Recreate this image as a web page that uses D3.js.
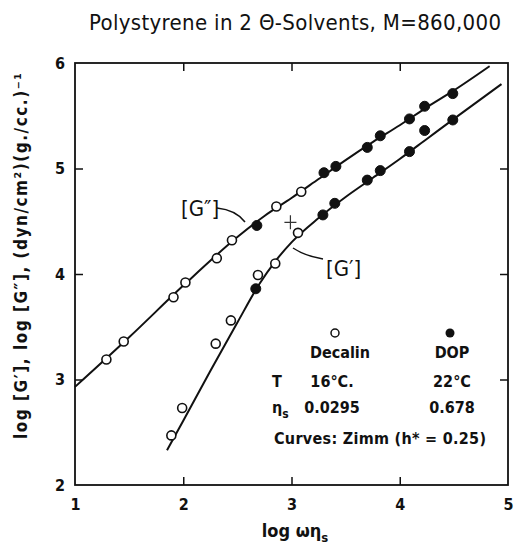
<!DOCTYPE html>
<html><head><meta charset="utf-8">
<script src="https://cdn.jsdelivr.net/npm/d3@7"></script>
<style>body{margin:0;background:#fff}svg{display:block}text{font-family:"DejaVu Sans Condensed","DejaVu Sans",sans-serif;fill:#111}</style>
</head><body><svg id="c" width="516" height="546"></svg>
<script>
// data
const xTicks = [1, 2, 3, 4, 5];
const yTicks = [2, 3, 4, 5, 6];
const gDoublePrimeDecalin = [[1.29,3.19],[1.45,3.36],[1.91,3.78],[2.02,3.92],[2.31,4.15],[2.45,4.32],[2.86,4.64],[3.09,4.78]];
const gDoublePrimeDOP = [[2.68,4.46],[3.30,4.96],[3.41,5.02],[3.70,5.20],[3.82,5.31],[4.09,5.47],[4.23,5.59],[4.49,5.71]];
const gPrimeDecalin = [[1.89,2.47],[1.99,2.73],[2.30,3.34],[2.44,3.56],[2.69,3.99],[2.85,4.10],[3.06,4.39]];
const gPrimeDOP = [[2.67,3.86],[3.29,4.56],[3.40,4.67],[3.70,4.89],[3.82,4.98],[4.09,5.16],[4.23,5.36],[4.49,5.46]];
const zimmGDoublePrime = [[1.0,2.93],[1.5,3.40],[2.0,3.89],[2.5,4.35],[2.75,4.55],[3.0,4.72],[3.25,4.90],[3.5,5.08],[3.75,5.25],[4.0,5.41],[4.25,5.58],[4.5,5.74],[4.83,5.97]];
const zimmGPrime = [[1.85,2.33],[2.0,2.61],[2.25,3.08],[2.5,3.54],[2.7,3.90],[2.85,4.12],[3.0,4.30],[3.25,4.53],[3.5,4.73],[3.75,4.91],[4.0,5.09],[4.25,5.28],[4.5,5.47],[4.94,5.80]];
const crossMark = [[2.99,4.49]];

const svg = d3.select("#c");
const L=75, R=508, T=63, B=485;
const x = d3.scaleLinear().domain([1,5]).range([L,R]);
const y = d3.scaleLinear().domain([2,6]).range([B,T]);
const ink="#111";

// frame
svg.append("rect").attr("x",L).attr("y",T).attr("width",R-L).attr("height",B-T)
  .attr("fill","none").attr("stroke",ink).attr("stroke-width",1.8);

// axes with inward ticks
const tl=8;
const gb=svg.append("g").attr("transform",`translate(0,${B})`)
  .call(d3.axisBottom(x).tickValues(xTicks).tickSize(-tl).tickPadding(14).tickFormat(d3.format("d")));
const gt=svg.append("g").attr("transform",`translate(0,${T})`)
  .call(d3.axisTop(x).tickValues(xTicks.slice(1,-1)).tickSize(-tl).tickFormat(""));
const gl=svg.append("g").attr("transform",`translate(${L},0)`)
  .call(d3.axisLeft(y).tickValues(yTicks).tickSize(-tl).tickPadding(10).tickFormat(d3.format("d")));
const gr=svg.append("g").attr("transform",`translate(${R},0)`)
  .call(d3.axisRight(y).tickValues(yTicks.slice(1,-1)).tickSize(-tl).tickFormat(""));
[gb,gt,gl,gr].forEach(g=>{g.select(".domain").remove();g.selectAll("line").attr("stroke",ink).attr("stroke-width",1.5);
  g.selectAll("text").style("font-size","16px").style("font-weight","bold").attr("fill",ink);});
gl.selectAll(".tick").filter(d=>d===2||d===6).select("line").remove();
gb.selectAll(".tick").filter(d=>d===1||d===5).select("line").remove();

// curves
const line=d3.line().x(d=>x(d[0])).y(d=>y(d[1])).curve(d3.curveMonotoneX);
[zimmGDoublePrime,zimmGPrime].forEach(c=>svg.append("path").attr("d",line(c)).attr("fill","none").attr("stroke",ink).attr("stroke-width",2));

// points
function pts(data,filled){
  svg.append("g").selectAll("circle").data(data).join("circle")
   .attr("cx",d=>x(d[0])).attr("cy",d=>y(d[1])).attr("r",filled?5:4.5)
   .attr("fill",filled?ink:"#fff").attr("stroke",ink).attr("stroke-width",filled?1:1.6);
}
pts(gDoublePrimeDecalin,false);pts(gPrimeDecalin,false);
pts(gDoublePrimeDOP,true);pts(gPrimeDOP,true);

// cross
crossMark.forEach(d=>{const cx=x(d[0]),cy=y(d[1]);
  svg.append("path").attr("d",`M${cx-6},${cy}H${cx+6}M${cx},${cy-7}V${cy+7}`).attr("stroke","#333").attr("stroke-width",1.2);});

// annotations
svg.append("text").attr("x",181).attr("y",216).style("font-size","22px").text("[G″]");
svg.append("path").attr("d","M217,208 Q236,210 245,222").attr("fill","none").attr("stroke",ink).attr("stroke-width",1.5);
svg.append("text").attr("x",326).attr("y",276).style("font-size","22px").text("[G′]");
svg.append("path").attr("d","M323,259 Q305,256 293,248").attr("fill","none").attr("stroke",ink).attr("stroke-width",1.5);

// legend
svg.append("circle").attr("cx",335).attr("cy",333).attr("r",4).attr("fill","#fff").attr("stroke",ink).attr("stroke-width",1.5);
svg.append("circle").attr("cx",450).attr("cy",333).attr("r",4.5).attr("fill",ink);
const lt=(t,xx,yy,anchor)=>svg.append("text").attr("x",xx).attr("y",yy).attr("text-anchor",anchor||"middle").style("font-size","16px").style("font-weight","bold").text(t);
lt("Decalin",340,358);lt("DOP",452,358);
lt("T",272,387,"start");lt("16°C.",332,387);lt("22°C",452,387);
const eta=lt("η",272,413,"start");eta.append("tspan").attr("dy",5).style("font-size","12px").text("s");
lt("0.0295",332,413);lt("0.678",452,413);
lt("Curves:  Zimm (h* = 0.25)",380,444).attr("textLength",212);

// title
svg.append("text").attr("x",295).attr("y",30).attr("text-anchor","middle").style("font-size","22px").attr("textLength",412).text("Polystyrene in 2 Θ-Solvents, M=860,000");

// x label
const xl=svg.append("text").attr("x",295).attr("y",537).attr("text-anchor","middle").style("font-size","18px").style("font-weight","bold").text("log ωη");
xl.append("tspan").attr("dy",5).style("font-size","13px").text("s");

// y label
svg.append("text").attr("transform","translate(27,256) rotate(-90)").attr("text-anchor","middle").style("font-size","17px").style("font-weight","bold")
 .attr("textLength",366).text("log [G′],  log [G″],  (dyn/cm²)(g./cc.)⁻¹");
</script></body></html>
